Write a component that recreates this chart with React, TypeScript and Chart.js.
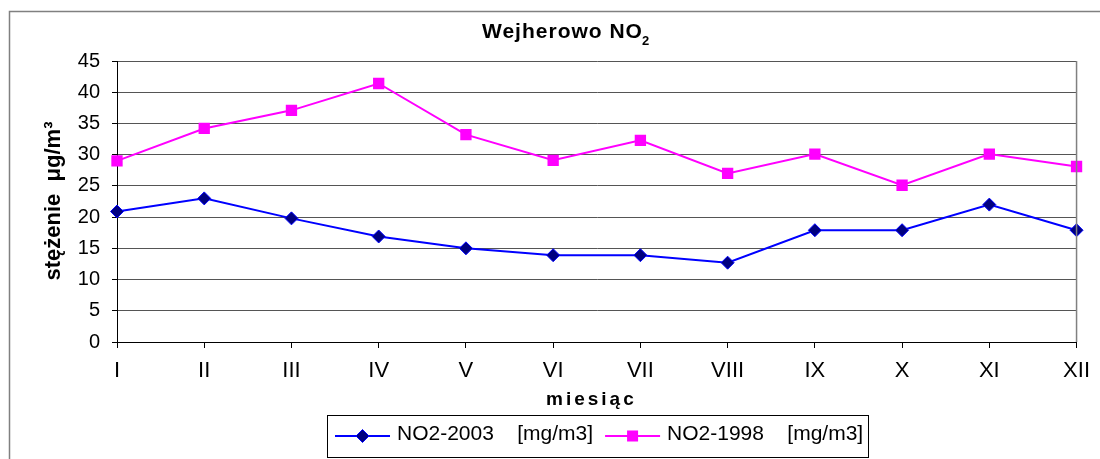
import React, { useEffect, useRef } from "react";
import { Chart, registerables } from "chart.js";

Chart.register(...registerables);

const months = ["I", "II", "III", "IV", "V", "VI", "VII", "VIII", "IX", "X", "XI", "XII"];
const no2_2003 = [20.9, 23.0, 19.8, 16.9, 15.0, 13.9, 13.9, 12.7, 17.9, 17.9, 22.0, 17.9];
const no2_1998 = [29.0, 34.2, 37.1, 41.4, 33.2, 29.1, 32.3, 27.0, 30.1, 25.1, 30.1, 28.1];
const yTicks = { min: 0, max: 45, step: 5 };
const label2003 = "NO2-2003    [mg/m3]";
const label1998 = "NO2-1998    [mg/m3]";
const titleMain = "Wejherowo NO";
const titleSub = "2";
const xTitle = "miesiąc";
const yTitle = "stężenie  μg/m³";

const FONT = "'Liberation Sans', Arial, sans-serif";
const NARROW = "'Liberation Sans Narrow', 'Arial Narrow', 'Liberation Sans', Arial, sans-serif";

const BLUE = "#0000ff";
const NAVY = "#000080";
const PINK = "#ff00ff";

const decorPlugin = {
  id: "decor",
  afterDraw(chart: any) {
    const ctx: CanvasRenderingContext2D = chart.ctx;
    const area = chart.chartArea;
    ctx.save();

    // outer frame
    ctx.strokeStyle = "#808080";
    ctx.lineWidth = 1.5;
    ctx.beginPath();
    ctx.moveTo(9.5, 470);
    ctx.lineTo(9.5, 11.5);
    ctx.lineTo(1110, 11.5);
    ctx.stroke();

    // right border of plot area
    ctx.strokeStyle = "#808080";
    ctx.lineWidth = 1.5;
    ctx.beginPath();
    ctx.moveTo(area.right, area.top);
    ctx.lineTo(area.right, area.bottom);
    ctx.stroke();

    ctx.fillStyle = "#000";
    // title
    (ctx as any).letterSpacing = "1px";
    ctx.font = `bold 21px ${FONT}`;
    ctx.textAlign = "left";
    ctx.textBaseline = "alphabetic";
    ctx.fillText(titleMain, 482, 38);
    const w = ctx.measureText(titleMain).width;
    (ctx as any).letterSpacing = "0px";
    ctx.font = `bold 13px ${FONT}`;
    ctx.fillText(titleSub, 482 + w - 1, 45);

    // x title
    (ctx as any).letterSpacing = "3px";
    ctx.font = `bold 19px ${FONT}`;
    ctx.fillText(xTitle, 546, 405);
    (ctx as any).letterSpacing = "0px";

    // y title
    ctx.save();
    ctx.translate(60, 201);
    ctx.rotate(-Math.PI / 2);
    ctx.font = `bold 22px ${FONT}`;
    ctx.textAlign = "center";
    ctx.textBaseline = "alphabetic";
    ctx.fillText(yTitle, 0, 0);
    ctx.restore();

    // legend
    const ds = chart.data.datasets;
    ctx.strokeStyle = "#000";
    ctx.lineWidth = 1;
    ctx.strokeRect(327.5, 415.5, 541, 42);
    ctx.font = `21px ${FONT}`;
    ctx.textAlign = "left";
    ctx.textBaseline = "alphabetic";
    let x = 335;
    const ly = 436;
    ds.forEach((d: any, i: number) => {
      ctx.strokeStyle = d.borderColor;
      ctx.lineWidth = 2;
      ctx.beginPath();
      ctx.moveTo(x, ly);
      ctx.lineTo(x + 55, ly);
      ctx.stroke();
      const cx = x + 27.5;
      ctx.fillStyle = d.pointBackgroundColor;
      ctx.strokeStyle = d.pointBorderColor;
      ctx.lineWidth = 1;
      if (i === 0) {
        ctx.beginPath();
        ctx.moveTo(cx, ly - 6.5);
        ctx.lineTo(cx + 6.5, ly);
        ctx.lineTo(cx, ly + 6.5);
        ctx.lineTo(cx - 6.5, ly);
        ctx.closePath();
        ctx.fill();
        ctx.stroke();
      } else {
        ctx.fillRect(cx - 5.5, ly - 5.5, 11, 11);
      }
      ctx.fillStyle = "#000";
      ctx.fillText(d.label, x + 62, 440);
      x += 62 + ctx.measureText(d.label).width + 12;
    });

    ctx.restore();
  },
};

export default function App() {
  const ref = useRef<HTMLCanvasElement>(null);
  useEffect(() => {
    if (!ref.current) return;
    const chart = new Chart(ref.current, {
      type: "line",
      data: {
        labels: months,
        datasets: [
          {
            label: label2003,
            data: no2_2003,
            borderColor: BLUE,
            borderWidth: 2,
            pointStyle: "rectRot",
            pointRadius: 6.5,
            pointBackgroundColor: NAVY,
            pointBorderColor: BLUE,
            pointBorderWidth: 1,
            tension: 0,
          },
          {
            label: label1998,
            data: no2_1998,
            borderColor: PINK,
            borderWidth: 2,
            pointStyle: "rect",
            pointRadius: 8,
            pointBackgroundColor: PINK,
            pointBorderColor: PINK,
            pointBorderWidth: 0,
            tension: 0,
          },
        ],
      },
      options: {
        animation: false,
        responsive: false,
        devicePixelRatio: 1,
        layout: { padding: { top: 61, right: 23, left: 0, bottom: 0 } },
        plugins: {
          legend: { display: false },
          title: { display: false },
          tooltip: { enabled: false },
        },
        scales: {
          x: {
            offset: false,
            afterFit: (s: any) => {
              s.height = 117;
            },
            grid: {
              drawOnChartArea: false,
              drawTicks: true,
              tickLength: 6,
              color: "#000",
            },
            border: { display: true, color: "#000", width: 1 },
            ticks: {
              autoSkip: false,
              maxRotation: 0,
              color: "#000",
              padding: 10,
              font: { family: NARROW, size: 22 },
            },
          },
          y: {
            min: yTicks.min,
            max: yTicks.max,
            afterFit: (s: any) => {
              s.width = 117;
            },
            grid: {
              color: "#555",
              lineWidth: 1,
              tickLength: 5,
              tickColor: "#000",
            },
            border: { display: true, color: "#000", width: 1 },
            ticks: {
              stepSize: yTicks.step,
              color: "#000",
              padding: 12,
              font: { family: FONT, size: 20 },
            },
          },
        },
      },
      plugins: [decorPlugin],
    });
    return () => chart.destroy();
  }, []);
  return (
    <div style={{ position: "absolute", left: 0, top: 0, width: 1100, height: 459, background: "#fff" }}>
      <canvas ref={ref} width={1100} height={459} />
    </div>
  );
}
